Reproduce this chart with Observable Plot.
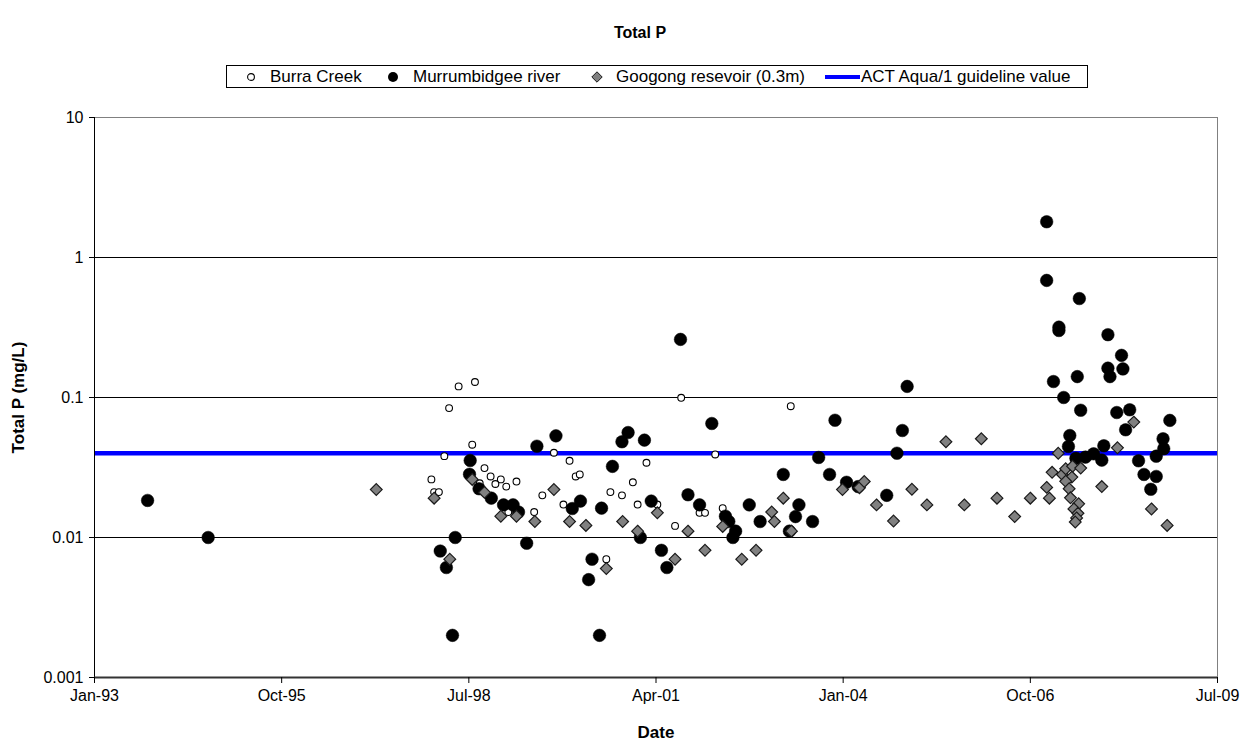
<!DOCTYPE html>
<html>
<head>
<meta charset="utf-8">
<script src="https://cdn.jsdelivr.net/npm/d3@7"></script>
<script src="https://cdn.jsdelivr.net/npm/@observablehq/plot@0.6"></script>
<style>
  html, body { margin: 0; padding: 0; background: white; }
  body { width: 1251px; height: 742px; font-family: "Liberation Sans", Arial, sans-serif; color: black; overflow: hidden; }
  #title { height: 65px; position: relative; }
  #title span { position: absolute; left: 0; width: 1280px; top: 23px; text-align: center; font-weight: bold; font-size: 16px; line-height: 20px; }
  #legendRow { height: 23px; position: relative; }
  #legend { position: absolute; left: 226px; top: 0; width: 860px; height: 21px; border: 1px solid black; font-size: 17px; white-space: nowrap; }
  #legend .lbl { position: absolute; top: 0; line-height: 21px; }
  #legend svg { position: absolute; }
  #chart svg { display: block; }
</style>
</head>
<body>
<div id="title"><span>Total P</span></div>
<div id="legendRow"><div id="legend"></div></div>
<div id="chart"></div>
<script>
// ---- Data (decimal year, Total P mg/L) ----
const burraYear = [1997.95,1997.99,1998.06,1998.14,1998.21,1998.35,1998.59,1998.55,1998.66,1998.73,1998.82,1998.97,1998.89,1999.05,1999.20,1999.08,1999.46,1999.58,1999.75,1999.98,2000.07,2000.13,1999.89,2000.58,2000.75,2000.52,2000.91,2001.11,2000.98,2001.27,2001.53,2001.62,2001.89,2001.97,2002.12,2002.23,2003.23];
const burraP    = [0.0260,0.0211,0.0211,0.0381,0.0840,0.120,0.129,0.0460,0.0244,0.0313,0.0273,0.0260,0.0241,0.0231,0.0251,0.0152,0.0152,0.0200,0.0403,0.0353,0.0273,0.0282,0.0172,0.0211,0.0200,0.0070,0.0248,0.0342,0.0172,0.0172,0.0121,0.0995,0.0150,0.0150,0.0392,0.0162,0.0867];

const murrYear = [1993.78,1994.67,1998.08,1998.17,1998.26,1998.30,1998.52,1998.51,1998.65,1998.83,1999.01,1999.15,1999.23,1999.35,1999.50,1999.78,2000.02,2000.14,2000.26,2000.31,2000.42,2000.45,2000.61,2000.75,2000.84,2001.08,2001.02,2001.18,2001.33,2001.41,2001.61,2001.72,2001.89,2002.07,2002.27,2002.32,2002.42,2002.38,2002.62,2002.78,2003.12,2003.21,2003.30,2003.35,2003.55,2003.64,2003.80,2003.88,2004.05,2004.22,2004.64,2004.79,2004.87,2004.94,2006.99,2006.99,2007.09,2007.17,2007.17,2007.24,2007.31,2007.33,2007.42,2007.44,2007.47,2007.49,2007.56,2007.68,2007.80,2007.83,2007.89,2007.89,2007.92,2008.02,2008.09,2008.11,2008.15,2008.21,2008.34,2008.42,2008.52,2008.60,2008.60,2008.70,2008.71,2008.80];
const murrP    = [0.0184,0.0100,0.0080,0.0061,0.0020,0.0100,0.0355,0.0283,0.0223,0.0191,0.0171,0.0171,0.0152,0.0091,0.0449,0.0532,0.0161,0.0182,0.0050,0.0070,0.0020,0.0162,0.0322,0.0483,0.0562,0.0496,0.0100,0.0182,0.0081,0.0061,0.260,0.0202,0.0171,0.0652,0.0142,0.0130,0.0111,0.0100,0.0171,0.0130,0.0282,0.0111,0.0141,0.0171,0.0130,0.0373,0.0282,0.0688,0.0248,0.0231,0.0200,0.0400,0.0581,0.120,1.80,0.686,0.130,0.318,0.301,0.100,0.0447,0.0535,0.0368,0.141,0.509,0.0811,0.0375,0.0396,0.0357,0.0452,0.281,0.162,0.141,0.0781,0.200,0.160,0.0588,0.0817,0.0353,0.0282,0.0221,0.0381,0.0273,0.0507,0.0431,0.0686];

const googYear = [1997.14,1997.99,1998.22,1998.55,1998.73,1998.97,1999.20,1999.47,1999.75,1999.98,2000.22,2000.52,2000.76,2000.98,2001.27,2001.53,2001.72,2001.97,2002.23,2002.51,2002.72,2002.95,2002.99,2003.12,2003.24,2003.99,2004.24,2004.31,2004.49,2004.74,2005.01,2005.23,2005.51,2005.78,2006.03,2006.26,2006.52,2006.75,2006.99,2007.03,2007.07,2007.16,2007.22,2007.27,2007.37,2007.36,2007.49,2007.27,2007.32,2007.34,2007.46,2007.39,2007.45,2007.43,2007.41,2007.80,2008.03,2008.27,2008.53,2008.76];
const googP    = [0.0220,0.0191,0.0070,0.0260,0.0210,0.0142,0.0142,0.0130,0.0220,0.0130,0.0122,0.0060,0.0130,0.0111,0.0150,0.0070,0.0111,0.0081,0.0120,0.0070,0.0081,0.0152,0.0130,0.0191,0.0111,0.0220,0.0227,0.0251,0.0171,0.0131,0.0221,0.0171,0.0483,0.0171,0.0507,0.0191,0.0141,0.0191,0.0228,0.0191,0.0292,0.0400,0.0282,0.0310,0.0323,0.0270,0.0313,0.0252,0.0223,0.0192,0.0174,0.0160,0.0149,0.0138,0.0129,0.0231,0.0437,0.0667,0.0160,0.0122];

const guideline = 0.04;
const xTickYears  = [1993, 1995.75, 1998.5, 2001.25, 2004, 2006.75, 2009.5];
const xTickLabels = ["Jan-93", "Oct-95", "Jul-98", "Apr-01", "Jan-04", "Oct-06", "Jul-09"];
const yTicks = [0.001, 0.01, 0.1, 1, 10];
const yGrid = [0.01, 0.1, 1];
const seriesNames = ["Burra Creek", "Murrumbidgee river", "Googong resevoir (0.3m)", "ACT Aqua/1 guideline value"];

const toRows = (xs, ys) => xs.map((x, i) => ({x, y: ys[i]}));
const burra = toRows(burraYear, burraP);
const murr = toRows(murrYear, murrP);
const goog = toRows(googYear, googP);

const chart = Plot.plot({
  width: 1251,
  height: 654,
  marginTop: 29,
  marginBottom: 65,
  marginLeft: 94,
  marginRight: 34,
  style: {fontFamily: "'Liberation Sans', Arial, sans-serif", fontSize: "16px", color: "black", background: "white", overflow: "visible"},
  x: {type: "linear", domain: [1993, 2009.5]},
  y: {type: "log", domain: [0.001, 10]},
  marks: [
    Plot.ruleY(yGrid, {stroke: "black", strokeWidth: 1}),
    Plot.frame({stroke: "#808080", strokeWidth: 1}),
    Plot.ruleY([guideline], {stroke: "#0000ff", strokeWidth: 4.5}),
    Plot.dot(burra, {x: "x", y: "y", r: 3.4, fill: "white", stroke: "black", strokeWidth: 1.1}),
    Plot.dot(murr, {x: "x", y: "y", r: 6.3, fill: "black", stroke: "black", strokeWidth: 0.5}),
    Plot.dot(goog, {x: "x", y: "y", r: 5.3, symbol: "diamond2", fill: "#808080", stroke: "#1a1a1a", strokeWidth: 1.2}),
    Plot.ruleX([1993], {stroke: "black", strokeWidth: 1}),
    Plot.ruleY([0.001], {stroke: "#333", strokeWidth: 2}),
    Plot.axisX({ticks: xTickYears, tickFormat: (d) => xTickLabels[xTickYears.indexOf(d)], tickSize: 6, tickPadding: 6, label: null, fontSize: 16}),
    Plot.axisY({ticks: yTicks, tickFormat: (d) => String(d), tickSize: 5, tickPadding: 6, label: null, fontSize: 16}),
    Plot.text(["Date"], {frameAnchor: "bottom", dy: 55, fontWeight: "bold", fontSize: 17, textAnchor: "middle", lineAnchor: "middle"}),
    Plot.text(["Total P (mg/L)"], {frameAnchor: "left", dx: -76, rotate: -90, fontWeight: "bold", fontSize: 17, textAnchor: "middle", lineAnchor: "middle"})
  ]
});
document.getElementById("chart").appendChild(chart);

// ---- Legend ----
const legend = document.getElementById("legend");
const boxLeft = 227;
const markerSvgs = [
  {cx: 251, svg: '<svg width="12" height="12" style="top:5px"><circle cx="6" cy="6" r="3.4" fill="white" stroke="black" stroke-width="1.1"/></svg>', w: 12},
  {cx: 393, svg: '<svg width="14" height="14" style="top:4px"><circle cx="7" cy="7" r="5" fill="black"/></svg>', w: 14},
  {cx: 597, svg: '<svg width="14" height="14" style="top:4px"><path d="M7 1.8 L12.2 7 L7 12.2 L1.8 7 Z" fill="#808080" stroke="#1a1a1a" stroke-width="1"/></svg>', w: 14},
  {cx: 842, svg: '<svg width="35" height="8" style="top:7px"><line x1="0" y1="4" x2="35" y2="4" stroke="#0000ff" stroke-width="4"/></svg>', w: 35}
];
const labelX = [270, 413, 616, 861];
seriesNames.forEach((name, i) => {
  const m = markerSvgs[i];
  const holder = document.createElement("div");
  holder.innerHTML = m.svg;
  const s = holder.firstChild;
  s.style.left = (m.cx - boxLeft - m.w / 2) + "px";
  legend.appendChild(s);
  const t = document.createElement("span");
  t.className = "lbl";
  t.style.left = (labelX[i] - boxLeft) + "px";
  t.textContent = name;
  legend.appendChild(t);
});
</script>
</body>
</html>
